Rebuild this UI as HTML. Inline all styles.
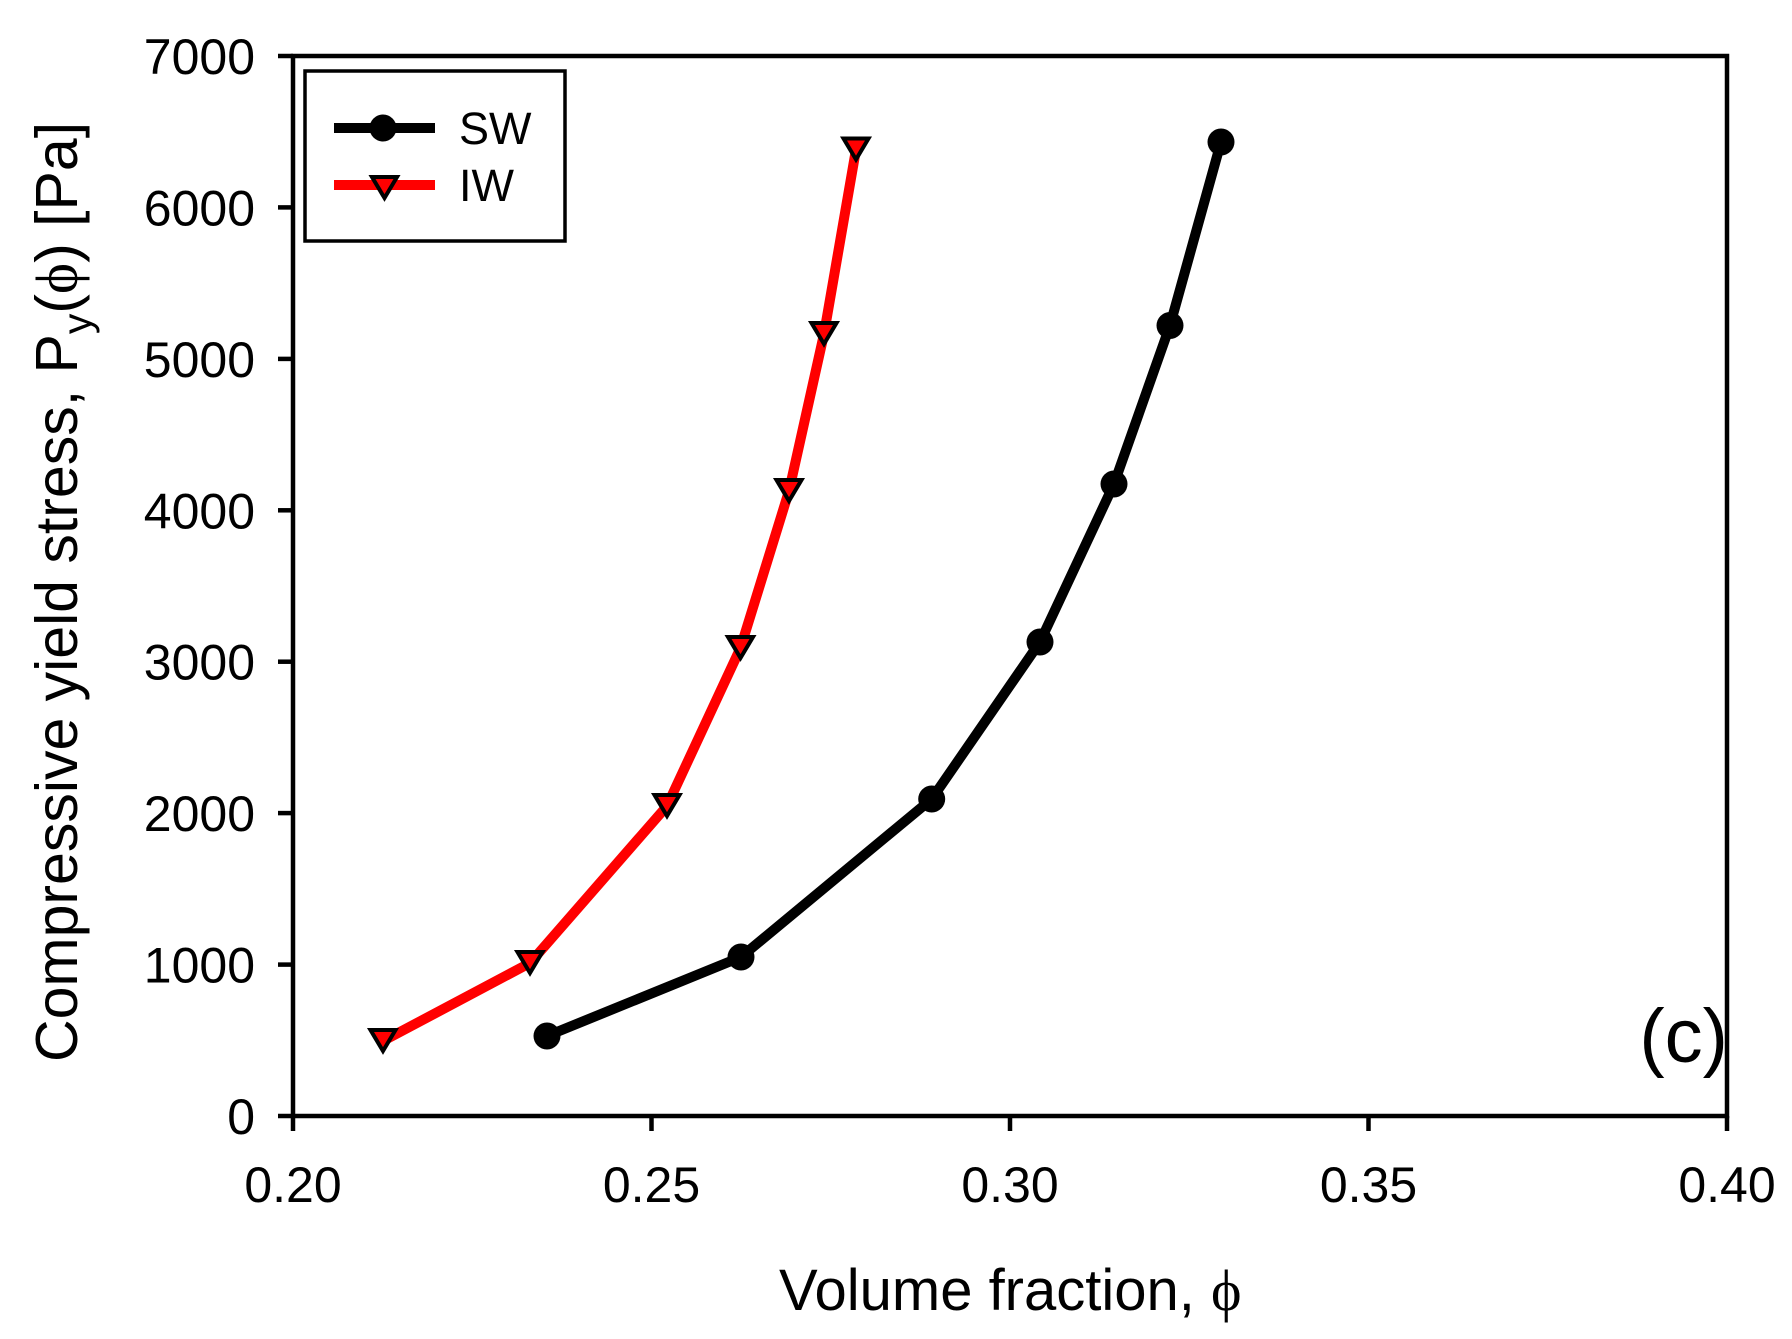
<!DOCTYPE html>
<html>
<head>
<meta charset="utf-8">
<style>
html,body{margin:0;padding:0;background:#fff;}
svg{display:block;}
text{font-family:"Liberation Sans",Arial,sans-serif;fill:#000;}
.serif{font-family:"Liberation Serif","DejaVu Serif",serif;}
</style>
</head>
<body>
<svg width="1792" height="1339" viewBox="0 0 1792 1339" xmlns="http://www.w3.org/2000/svg">
<rect x="0" y="0" width="1792" height="1339" fill="#fff"/>

<!-- Axes frame -->
<rect x="293" y="56" width="1434" height="1060" fill="none" stroke="#000" stroke-width="4.5"/>

<!-- Y ticks -->
<g stroke="#000" stroke-width="4.5">
<line x1="278" y1="1116" x2="293" y2="1116"/>
<line x1="278" y1="964.6" x2="293" y2="964.6"/>
<line x1="278" y1="813.1" x2="293" y2="813.1"/>
<line x1="278" y1="661.7" x2="293" y2="661.7"/>
<line x1="278" y1="510.3" x2="293" y2="510.3"/>
<line x1="278" y1="358.9" x2="293" y2="358.9"/>
<line x1="278" y1="207.4" x2="293" y2="207.4"/>
<line x1="278" y1="56" x2="293" y2="56"/>
<!-- X ticks -->
<line x1="293" y1="1116" x2="293" y2="1131"/>
<line x1="651.5" y1="1116" x2="651.5" y2="1131"/>
<line x1="1010" y1="1116" x2="1010" y2="1131"/>
<line x1="1368.5" y1="1116" x2="1368.5" y2="1131"/>
<line x1="1727" y1="1116" x2="1727" y2="1131"/>
</g>

<!-- Y tick labels -->
<g font-size="50" text-anchor="end">
<text x="255" y="1134">0</text>
<text x="255" y="982.6">1000</text>
<text x="255" y="831.1">2000</text>
<text x="255" y="679.7">3000</text>
<text x="255" y="528.3">4000</text>
<text x="255" y="376.9">5000</text>
<text x="255" y="225.4">6000</text>
<text x="255" y="74">7000</text>
</g>

<!-- X tick labels -->
<g font-size="50" text-anchor="middle">
<text x="293" y="1202">0.20</text>
<text x="651.5" y="1202">0.25</text>
<text x="1010" y="1202">0.30</text>
<text x="1368.5" y="1202">0.35</text>
<text x="1727" y="1202">0.40</text>
</g>

<!-- X axis label -->
<text x="779" y="1310" font-size="58">Volume fraction, <tspan class="serif">ϕ</tspan></text>

<!-- Y axis label -->
<text transform="translate(77,1062) rotate(-90)" x="0" y="0" font-size="59">Compressive yield stress, P<tspan font-size="41" dy="14">y</tspan><tspan dy="-14">(</tspan><tspan class="serif">ϕ</tspan>) [Pa]</text>

<!-- (c) label -->
<text x="1728" y="1062" font-size="76" text-anchor="end">(c)</text>

<!-- SW series -->
<polyline fill="none" stroke="#000" stroke-width="10" stroke-linejoin="round"
 points="547,1036 741,957 931.7,799 1040,642 1114,484 1170,325.5 1221,142"/>
<g fill="#000">
<circle cx="547" cy="1036" r="13.5"/>
<circle cx="741" cy="957" r="13.5"/>
<circle cx="931.7" cy="799" r="13.5"/>
<circle cx="1040" cy="642" r="13.5"/>
<circle cx="1114" cy="484" r="13.5"/>
<circle cx="1170" cy="325.5" r="13.5"/>
<circle cx="1221" cy="142" r="13.5"/>
</g>

<!-- IW series -->
<polyline fill="none" stroke="#ff0000" stroke-width="10" stroke-linejoin="round"
 points="383,1041 530,963 667,806 740.5,648 789,491 824,334 856,149.5"/>
<g fill="#ff0000" stroke="#000" stroke-width="4" stroke-linejoin="miter">
<polygon points="370.5,1030 395.5,1030 383,1051"/>
<polygon points="517.5,952 542.5,952 530,973"/>
<polygon points="654.5,795 679.5,795 667,816"/>
<polygon points="728,637 753,637 740.5,658"/>
<polygon points="776.5,480 801.5,480 789,501"/>
<polygon points="811.5,323 836.5,323 824,344"/>
<polygon points="843.5,138.5 868.5,138.5 856,159.5"/>
</g>

<!-- Legend -->
<rect x="305" y="71" width="260" height="170" fill="#fff" stroke="#000" stroke-width="3.5"/>
<line x1="334" y1="128" x2="435" y2="128" stroke="#000" stroke-width="10"/>
<circle cx="383" cy="128" r="13.5" fill="#000"/>
<line x1="334" y1="185" x2="435" y2="185" stroke="#ff0000" stroke-width="10"/>
<polygon points="372,177 397,177 384.5,198" fill="#ff0000" stroke="#000" stroke-width="4" stroke-linejoin="miter"/>
<text x="459" y="144" font-size="45">SW</text>
<text x="459" y="201" font-size="45">IW</text>
</svg>
</body>
</html>
